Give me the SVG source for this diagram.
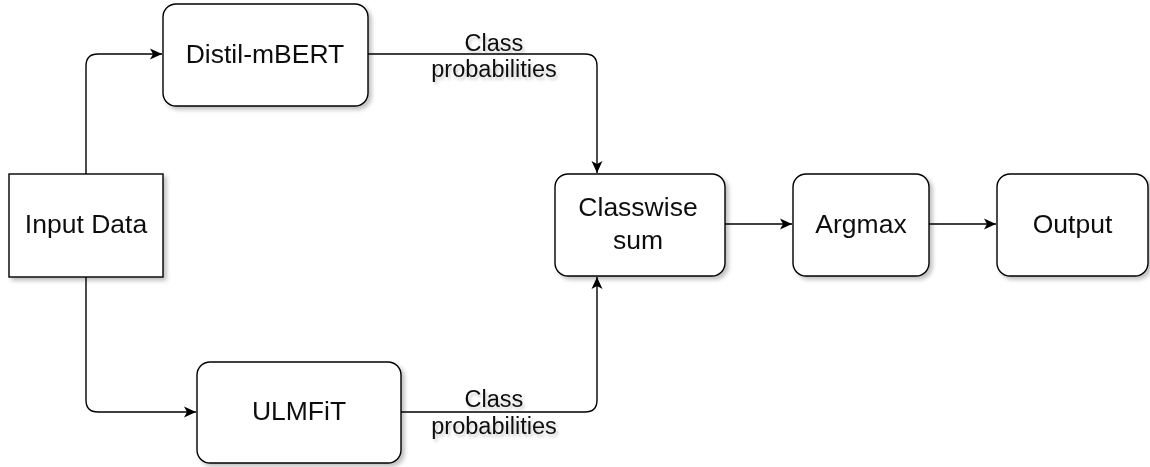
<svg xmlns="http://www.w3.org/2000/svg" width="1150" height="467" viewBox="0 0 1150 467">
<defs>
<filter id="sh" x="-10%" y="-10%" width="130%" height="130%">
<feGaussianBlur in="SourceAlpha" stdDeviation="2"/>
<feOffset dx="3" dy="3" result="b"/>
<feComponentTransfer><feFuncA type="linear" slope="0.25"/></feComponentTransfer>
<feMerge><feMergeNode/><feMergeNode in="SourceGraphic"/></feMerge>
</filter>
<filter id="tsh" x="-10%" y="-20%" width="130%" height="150%">
<feGaussianBlur in="SourceAlpha" stdDeviation="1.5"/>
<feOffset dx="2" dy="3" result="b"/>
<feComponentTransfer><feFuncA type="linear" slope="0.2"/></feComponentTransfer>
<feMerge><feMergeNode/><feMergeNode in="SourceGraphic"/></feMerge>
</filter>
<marker id="ah" markerWidth="16" markerHeight="14" refX="13" refY="7" orient="auto" markerUnits="userSpaceOnUse">
<path d="M1,1.5 L13,7 L1,12.5 L4,7 Z" fill="#000"/>
</marker>
</defs>
<style>
.box{fill:#fff;stroke:#000;stroke-width:1.4}
.t{font-family:"Liberation Sans",Arial,sans-serif;font-size:26.5px;fill:#111;text-anchor:middle}
.l{font-family:"Liberation Sans",Arial,sans-serif;font-size:23.5px;fill:#111;text-anchor:middle}
.c{fill:none;stroke:#000;stroke-width:1.4}
</style>
<rect width="1150" height="467" fill="#fff"/>
<g id="connectors">
<path class="c" d="M86,174 V66 Q86,54 98,54 H162" marker-end="url(#ah)"/>
<path class="c" d="M86,277 V400 Q86,412 98,412 H196" marker-end="url(#ah)"/>
<path class="c" d="M368,54 H585 Q597,54 597,66 V173" marker-end="url(#ah)"/>
<path class="c" d="M401,412 H585 Q597,412 597,400 V277" marker-end="url(#ah)"/>
<path class="c" d="M725,224 H792" marker-end="url(#ah)"/>
<path class="c" d="M929,224 H996" marker-end="url(#ah)"/>
<g filter="url(#tsh)">
<text class="l" x="494" y="51">Class</text>
<text class="l" x="494" y="77">probabilities</text>
<text class="l" x="494" y="407">Class</text>
<text class="l" x="494" y="434">probabilities</text>
</g>
</g>
<g id="distil" filter="url(#sh)">
<rect class="box" x="163" y="4" width="205" height="102" rx="13"/>
<text class="t" x="265" y="63">Distil-mBERT</text>
</g>
<g id="input" filter="url(#sh)">
<rect class="box" x="9" y="174" width="154" height="103"/>
<text class="t" x="86" y="233">Input Data</text>
</g>
<g id="ulmfit" filter="url(#sh)">
<rect class="box" x="197" y="362" width="204" height="101" rx="13"/>
<text class="t" x="299" y="420">ULMFiT</text>
</g>
<g id="classwise" filter="url(#sh)">
<rect class="box" x="555" y="174" width="170" height="102" rx="13"/>
<text class="t" x="638" y="216">Classwise</text>
<text class="t" x="638" y="249">sum</text>
</g>
<g id="argmax" filter="url(#sh)">
<rect class="box" x="793" y="174" width="136" height="102" rx="13"/>
<text class="t" x="861" y="233">Argmax</text>
</g>
<g id="output" filter="url(#sh)">
<rect class="box" x="997" y="174" width="151" height="102" rx="13"/>
<text class="t" x="1072.5" y="233">Output</text>
</g>
</svg>
